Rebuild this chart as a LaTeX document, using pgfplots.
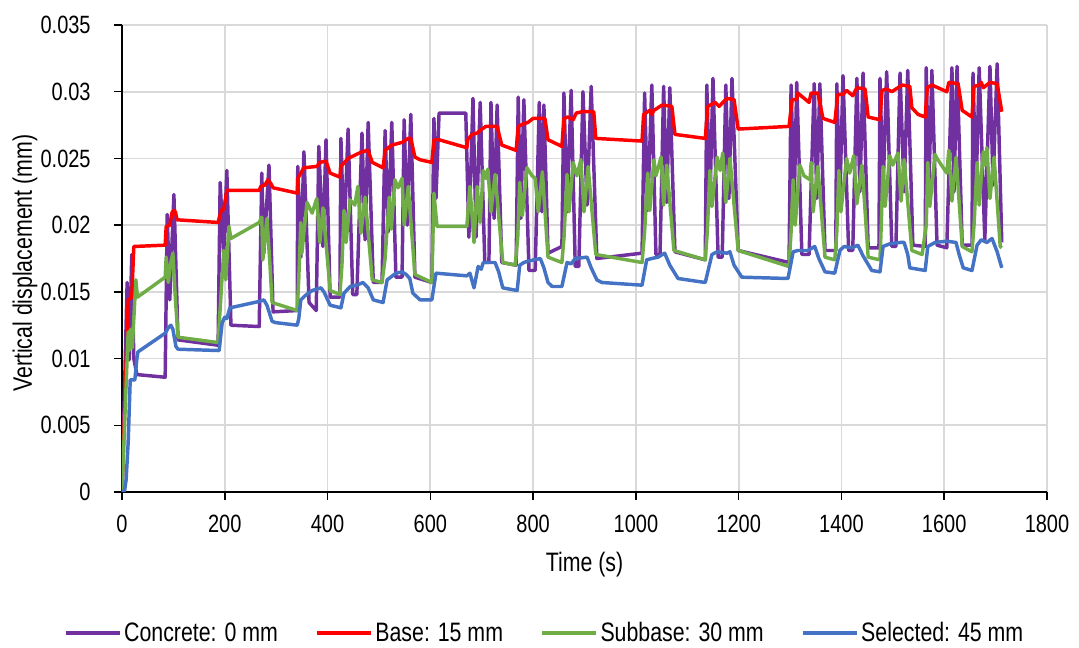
\documentclass[border=0pt]{standalone}
\usepackage{fontspec}
\setmainfont{Liberation Sans}
\usepackage{graphicx}
\usepackage{pgfplots}
\pgfplotsset{compat=1.18}
\definecolor{cConc}{HTML}{7030A0}
\definecolor{cBase}{HTML}{FF0000}
\definecolor{cSub}{HTML}{70AD47}
\definecolor{cSel}{HTML}{4472C4}
\newcommand{\vs}[1]{\scalebox{1}[1.25]{#1}}
\begin{document}
\begin{tikzpicture}
\path[use as bounding box] (-91.5pt,-117pt) rectangle (717.75pt,369pt);
\begin{axis}[at={(0,0)},anchor=south west,scale only axis,width=693.75pt,height=350.25pt,
  xmin=0,xmax=1800,ymin=0,ymax=0.035,
  xtick={0,200,400,600,800,1000,1200,1400,1600,1800},
  ytick={0,0.005,0.01,0.015,0.02,0.025,0.03,0.035},
  axis x line=bottom,axis y line=left,axis line style={black,line width=1.1pt,-},
  tick align=outside,major tick length=6pt,tick style={black,line width=1.1pt},
  grid=major,grid style={black!15,line width=1.3pt},
  scaled y ticks=false,
  yticklabel style={/pgf/number format/fixed,/pgf/number format/precision=3,xshift=-14pt},
  xticklabel style={/pgf/number format/1000 sep={},yshift=-8pt},
  xticklabel={\vs{\pgfmathprintnumber{\tick}}},
  yticklabel={\vs{\pgfmathprintnumber{\tick}}},
  /pgf/number format/assume math mode=true,
  tick label style={font=\fontsize{15}{18}\selectfont},
  xlabel={\vs{Time (s)}},ylabel={\vs{Vertical displacement (mm)}},
  label style={font=\fontsize{16}{19}\selectfont},
  xlabel style={at={(axis description cs:0.5,-0.1563)},anchor=center},
  ylabel style={at={(axis description cs:-0.1049,0.49)},anchor=center},
  legend columns=4,
  legend style={at={(axis description cs:0.4573,-0.302)},anchor=center,draw=none,
    font=\fontsize{16}{19}\selectfont,nodes={inner xsep=2pt},
    /tikz/every even column/.append style={column sep=26pt}},
  legend image code/.code={\draw[#1] (0pt,0pt) -- (40.5pt,0pt);},
  every axis plot/.append style={line width=2.6pt,line join=round}]

% Concrete: 0 mm
\addplot[cConc] table {
t d
0 0
10 0.0157
14 0.0099
19 0.0178
23 0.0100
29 0.0088
84 0.0086
88 0.0208
93 0.0144
101 0.0223
109 0.0114
187 0.0110
191 0.0232
198 0.0179
204 0.0241
212 0.0125
267 0.0124
272 0.0239
276 0.0179
286 0.0245
294 0.0135
341 0.0136
342 0.0244
348 0.0176
354 0.0255
364 0.0142
378 0.0136
383 0.0259
391 0.0184
397 0.0264
405 0.0146
424 0.0146
426 0.0265
432 0.0189
440 0.0272
449 0.0148
457 0.0148
467 0.0269
473 0.0189
479 0.0277
489 0.0157
506 0.0157
512 0.0271
518 0.0195
525 0.0277
533 0.0161
545 0.0161
549 0.0279
555 0.0200
562 0.0283
570 0.0161
603 0.0157
607 0.0280
611 0.0220
617 0.0284
669 0.0284
675 0.0191
683 0.0295
689 0.0191
697 0.0292
706 0.0172
714 0.0172
718 0.0292
724 0.0205
730 0.0290
739 0.0172
767 0.0170
771 0.0296
776 0.0205
782 0.0294
792 0.0166
804 0.0166
812 0.0292
817 0.0210
821 0.0290
829 0.0179
856 0.0184
860 0.0299
866 0.0210
874 0.0301
882 0.0169
889 0.0169
897 0.0300
905 0.0215
913 0.0304
924 0.0175
1012 0.0179
1017 0.0299
1023 0.0211
1031 0.0305
1039 0.0178
1047 0.0178
1054 0.0304
1060 0.0217
1066 0.0303
1076 0.0180
1135 0.0174
1138 0.0305
1144 0.0215
1150 0.0310
1160 0.0176
1168 0.0176
1175 0.0305
1181 0.0220
1187 0.0310
1199 0.0181
1298 0.0172
1302 0.0305
1308 0.0215
1313 0.0307
1323 0.0178
1337 0.0178
1347 0.0306
1352 0.0220
1358 0.0306
1368 0.0181
1389 0.0181
1391 0.0306
1397 0.0220
1403 0.0312
1414 0.0181
1422 0.0181
1430 0.0310
1436 0.0225
1442 0.0314
1452 0.0183
1473 0.0183
1475 0.0310
1481 0.0225
1488 0.0315
1498 0.0184
1506 0.0184
1514 0.0314
1522 0.0225
1529 0.0316
1539 0.0185
1563 0.0184
1565 0.0318
1570 0.0225
1576 0.0316
1586 0.0185
1605 0.0183
1615 0.0318
1619 0.0225
1625 0.0319
1635 0.0185
1654 0.0185
1656 0.0314
1662 0.0225
1668 0.0318
1679 0.0189
1689 0.0319
1695 0.0230
1703 0.0321
1712 0.0187
};
\addlegendentry{\vs{Concrete: 0 mm}}

% Base: 15 mm
\addplot[cBase] table {
t d
0 0
12 0.0144
19 0.0146
23 0.0184
84 0.0185
86 0.0199
93 0.0200
97 0.0209
100 0.0211
104 0.0210
107 0.0204
187 0.0202
193 0.0211
198 0.0212
204 0.0226
267 0.0226
270 0.0229
278 0.0230
284 0.0234
290 0.0231
294 0.0228
341 0.0224
342 0.0235
354 0.0243
379 0.0244
385 0.0247
397 0.0248
405 0.0239
424 0.0236
426 0.0244
440 0.0250
467 0.0255
479 0.0256
487 0.0247
508 0.0243
512 0.0256
525 0.0260
545 0.0262
557 0.0265
562 0.0265
570 0.0251
580 0.0249
603 0.0247
607 0.0264
617 0.0264
671 0.0258
673 0.0264
681 0.0268
691 0.0269
697 0.0271
708 0.0274
730 0.0274
739 0.0260
767 0.0256
771 0.0274
782 0.0276
790 0.0277
800 0.0280
823 0.0280
829 0.0264
856 0.0259
860 0.0280
868 0.0281
878 0.0279
884 0.0284
895 0.0285
918 0.0285
922 0.0265
1012 0.0263
1015 0.0283
1027 0.0286
1031 0.0283
1035 0.0286
1051 0.0290
1070 0.0289
1076 0.0268
1135 0.0265
1140 0.0289
1154 0.0292
1162 0.0289
1177 0.0295
1191 0.0294
1199 0.0272
1298 0.0274
1304 0.0294
1313 0.0294
1315 0.0299
1337 0.0292
1341 0.0299
1354 0.0299
1364 0.0280
1387 0.0277
1393 0.0298
1403 0.0298
1410 0.0301
1422 0.0297
1430 0.0303
1446 0.0302
1452 0.0281
1475 0.0279
1479 0.0301
1488 0.0302
1498 0.0300
1518 0.0305
1533 0.0304
1537 0.0288
1549 0.0283
1563 0.0281
1567 0.0303
1576 0.0305
1605 0.0300
1609 0.0307
1627 0.0306
1635 0.0286
1654 0.0281
1658 0.0304
1668 0.0305
1672 0.0307
1676 0.0303
1689 0.0307
1703 0.0306
1712 0.0285
};
\addlegendentry{\vs{Base: 15 mm}}

% Subbase: 30 mm
\addplot[cSub] table {
t d
0 0
6 0.0060
12 0.0120
14 0.0106
17 0.0122
20 0.0108
27 0.0159
30 0.0146
84 0.0161
86 0.0176
90 0.0157
95 0.0172
99 0.0179
104 0.0144
109 0.0116
187 0.0112
193 0.0150
198 0.0181
202 0.0159
208 0.0199
212 0.0190
267 0.0202
272 0.0206
274 0.0174
282 0.0205
288 0.0170
292 0.0142
341 0.0136
344 0.0160
348 0.0202
350 0.0179
360 0.0217
370 0.0209
379 0.0220
385 0.0187
391 0.0213
405 0.0151
424 0.0148
428 0.0170
432 0.0211
436 0.0187
444 0.0219
453 0.0215
459 0.0229
465 0.0194
473 0.0221
487 0.0159
506 0.0157
512 0.0175
520 0.0221
524 0.0197
531 0.0234
537 0.0228
545 0.0235
549 0.0200
557 0.0229
570 0.0163
603 0.0157
607 0.0224
613 0.0199
671 0.0199
677 0.0229
685 0.0187
691 0.0229
697 0.0202
703 0.0241
708 0.0235
712 0.0242
718 0.0210
726 0.0238
741 0.0172
765 0.0170
770 0.0190
774 0.0232
779 0.0207
788 0.0243
798 0.0237
804 0.0235
810 0.0210
818 0.0240
829 0.0176
856 0.0172
860 0.0190
866 0.0238
870 0.0210
878 0.0247
885 0.0237
893 0.0249
899 0.0210
907 0.0244
922 0.0178
1012 0.0172
1017 0.0195
1023 0.0239
1027 0.0211
1035 0.0249
1039 0.0237
1049 0.0251
1054 0.0215
1060 0.0245
1074 0.0181
1135 0.0174
1139 0.0195
1144 0.0241
1148 0.0214
1158 0.0251
1164 0.0241
1169 0.0254
1175 0.0217
1183 0.0250
1199 0.0181
1298 0.0169
1302 0.0195
1306 0.0234
1310 0.0200
1319 0.0245
1327 0.0237
1339 0.0234
1341 0.0247
1345 0.0210
1354 0.0244
1368 0.0176
1387 0.0174
1391 0.0195
1395 0.0241
1399 0.0210
1410 0.0250
1416 0.0239
1424 0.0252
1430 0.0216
1440 0.0245
1452 0.0176
1475 0.0174
1477 0.0195
1481 0.0244
1485 0.0214
1494 0.0252
1500 0.0245
1510 0.0254
1516 0.0218
1522 0.0249
1537 0.0181
1557 0.0178
1565 0.0200
1568 0.0247
1572 0.0214
1582 0.0253
1586 0.0250
1605 0.0239
1609 0.0256
1615 0.0218
1623 0.0251
1635 0.0184
1654 0.0180
1658 0.0200
1664 0.0247
1668 0.0215
1676 0.0255
1679 0.0245
1683 0.0258
1689 0.0220
1697 0.0251
1709 0.0184
1712 0.0183
};
\addlegendentry{\vs{Subbase: 30 mm}}

% Selected: 45 mm
\addplot[cSel] table {
t d
0 0
5 0.0001
8 0.0009
12 0.0037
16 0.0084
25 0.0084
29 0.0100
31 0.0105
84 0.0119
90 0.0123
95 0.0125
99 0.0122
105 0.0109
109 0.0107
189 0.0106
195 0.0127
200 0.0131
204 0.0130
210 0.0138
269 0.0143
276 0.0144
282 0.0140
292 0.0128
298 0.0127
341 0.0125
344 0.0130
348 0.0144
356 0.0147
370 0.0151
387 0.0153
393 0.0150
405 0.0140
426 0.0138
432 0.0149
444 0.0154
457 0.0155
469 0.0157
479 0.0153
489 0.0144
508 0.0142
516 0.0159
533 0.0164
545 0.0165
553 0.0163
560 0.0160
566 0.0149
580 0.0144
603 0.0144
611 0.0164
671 0.0162
677 0.0164
685 0.0153
693 0.0169
699 0.0167
703 0.0172
726 0.0172
733 0.0165
741 0.0153
769 0.0151
774 0.0170
782 0.0172
790 0.0173
814 0.0175
821 0.0168
829 0.0157
837 0.0154
856 0.0154
866 0.0172
874 0.0171
882 0.0175
905 0.0176
913 0.0168
924 0.0159
934 0.0157
1012 0.0155
1021 0.0174
1031 0.0175
1043 0.0176
1056 0.0179
1066 0.0170
1082 0.0160
1135 0.0157
1148 0.0178
1158 0.0180
1177 0.0179
1183 0.0180
1191 0.0170
1206 0.0161
1296 0.0160
1306 0.0180
1315 0.0181
1335 0.0181
1348 0.0184
1356 0.0175
1368 0.0165
1387 0.0164
1397 0.0181
1405 0.0184
1420 0.0183
1432 0.0185
1442 0.0177
1459 0.0166
1475 0.0165
1481 0.0184
1494 0.0186
1514 0.0187
1522 0.0187
1529 0.0178
1533 0.0168
1563 0.0166
1568 0.0184
1582 0.0187
1605 0.0188
1623 0.0187
1629 0.0178
1637 0.0168
1654 0.0166
1664 0.0185
1672 0.0189
1683 0.0187
1693 0.0190
1703 0.0180
1712 0.0168
};
\addlegendentry{\vs{Selected: 45 mm}}
\end{axis}
\end{tikzpicture}
\end{document}
